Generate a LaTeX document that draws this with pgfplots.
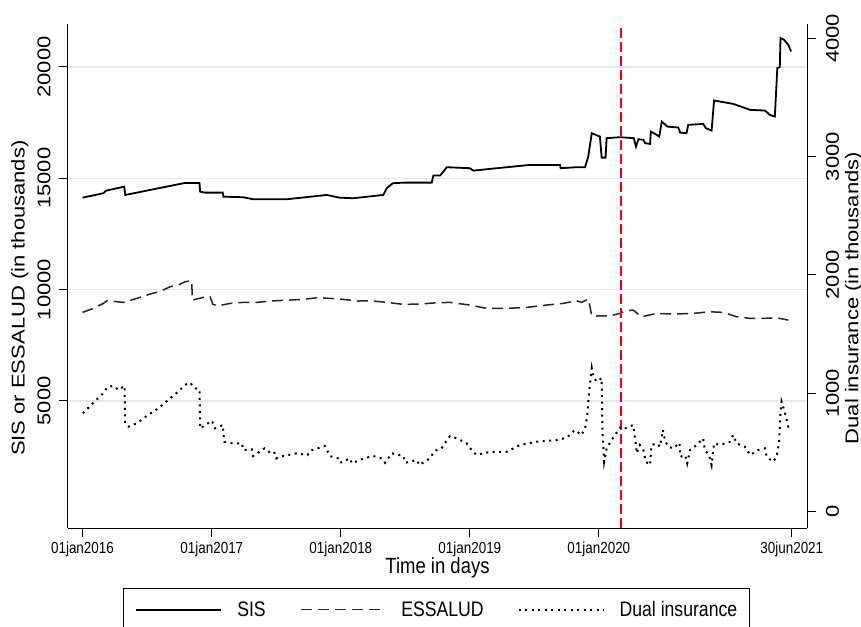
\documentclass[border=0pt]{standalone}
\usepackage{fontspec}
\setmainfont{Liberation Sans}
\usepackage{graphicx}
\usepackage{pgfplots}
\pgfplotsset{compat=1.18}
\newcommand{\sq}[1]{\scalebox{0.84}[1]{#1}}
\newcommand{\sqr}[1]{\scalebox{1}[0.84]{#1}}
\begin{document}
\begin{tikzpicture}
\pgfplotsset{
  common/.style={
    scale only axis, width=739pt, height=504pt,
    xmin=-41, xmax=2050,
    scaled ticks=false,
    tick align=outside, major tick length=9pt,
    every tick/.style={black, line width=1pt},
    axis line style={line width=1pt, black},
  },
  sisstyle/.style={black, line width=1.8pt, solid},
  essstyle/.style={black!85, line width=1.5pt, dash pattern=on 11pt off 6pt},
  dualstyle/.style={black, line width=2pt, dash pattern=on 2pt off 4.5pt},
}
\begin{axis}[common,
  ymin=-705, ymax=21930,
  axis y line*=left, axis x line*=bottom,
  xtick={0,366,731,1096,1461,2007},
  xticklabels={\sq{01jan2016},\sq{01jan2017},\sq{01jan2018},\sq{01jan2019},\sq{01jan2020},\sq{30jun2021}},
  xticklabel style={font=\fontsize{16}{16}\selectfont, anchor=center, yshift=-12pt},
  ytick={5000,10000,15000,20000},
  yticklabels={\sqr{5000},\sqr{10000},\sqr{15000},\sqr{20000}},
  yticklabel style={font=\fontsize{22}{22}\selectfont, anchor=center, xshift=-15pt, rotate=90},
  ymajorgrids, grid style={line width=1.3pt, color=black!9},
  xlabel={\sq{Time in days}},
  xlabel style={font=\fontsize{22}{22}\selectfont, at={(axis description cs:0.5,-0.078)}, anchor=center},
  ylabel={\sqr{SIS or ESSALUD (in thousands)}},
  ylabel style={font=\fontsize{22}{22}\selectfont, at={(axis description cs:-0.065,0.456)}, anchor=center},
]
\addplot[sisstyle] coordinates {
(0,14130)(59,14329)(67,14446)(118,14626)(121,14252)(290,14792)(331,14792)(333,14401)(347,14356)(397,14356)(399,14176)(455,14149)(483,14059)(578,14059)(691,14252)(727,14131)(766,14104)(851,14252)(861,14554)(878,14778)(908,14805)(988,14805)(993,15129)(1012,15129)(1031,15498)(1096,15453)(1106,15345)(1172,15453)(1266,15601)(1351,15601)(1353,15453)(1398,15498)(1422,15498)(1431,15974)(1441,17026)(1464,16874)(1469,15929)(1480,15929)(1483,16802)(1521,16847)(1560,16802)(1566,16424)(1573,16757)(1587,16725)(1592,16577)(1606,16545)(1608,17098)(1620,16995)(1632,16874)(1639,17548)(1655,17323)(1686,17278)(1691,17053)(1709,17026)(1714,17400)(1756,17444)(1764,17251)(1780,17143)(1787,18492)(1841,18344)(1889,18074)(1931,18042)(1945,17849)(1959,17773)(1966,19949)(1973,19994)(1975,21298)(1985,21221)(1997,20996)(2005,20695)
};
\addplot[essstyle] coordinates {
(0,8979)(31,9158)(59,9383)(69,9500)(116,9428)(154,9608)(191,9801)(220,9923)(248,10130)(271,10206)(290,10354)(309,10399)(311,9532)(319,9563)(342,9653)(361,9680)(369,9338)(384,9275)(418,9383)(455,9428)(493,9428)(531,9487)(568,9518)(625,9563)(663,9635)(700,9608)(738,9563)(776,9487)(814,9500)(861,9428)(908,9338)(955,9352)(1002,9410)(1040,9428)(1096,9307)(1144,9158)(1200,9158)(1257,9203)(1313,9307)(1360,9383)(1398,9500)(1412,9428)(1431,9576)(1436,9230)(1441,8812)(1493,8826)(1521,8934)(1535,9037)(1558,9082)(1582,8781)(1625,8934)(1672,8902)(1728,8934)(1775,9005)(1813,8979)(1851,8781)(1889,8709)(1926,8709)(1964,8736)(1997,8632)
};
\addplot[red, line width=2pt, dash pattern=on 10pt off 4pt] coordinates {(1524,-705)(1524,21930)};
\end{axis}
\begin{axis}[common,
  ymin=-138, ymax=4121,
  axis y line*=right, axis x line=none,
  ytick={0,1000,2000,3000,4000},
  yticklabels={\sqr{0},\sqr{1000},\sqr{2000},\sqr{3000},\sqr{4000}},
  yticklabel style={font=\fontsize{22}{22}\selectfont, anchor=center, xshift=16.5pt, rotate=90},
  ylabel={\sqr{Dual insurance (in thousands)}},
  ylabel style={font=\fontsize{22}{22}\selectfont, at={(axis description cs:1.0629,0.456)}, anchor=center},
  legend columns=3,
  legend image code/.code={\draw[#1] (0pt,0pt) -- (85pt,0pt);},
  legend style={at={(axis description cs:0.4985,-0.119)}, anchor=north, draw=black, line width=0.8pt,
    font=\fontsize{21}{21}\selectfont, inner xsep=12pt, inner ysep=13pt,
    nodes={inner sep=0pt},
    /tikz/every odd column/.append style={column sep=15pt},
    /tikz/every even column/.append style={column sep=34pt}},
]
\addlegendimage{sisstyle}
\addlegendentry{\sq{SIS}}
\addlegendimage{essstyle}
\addlegendentry{\sq{ESSALUD}}
\addplot[dualstyle] coordinates {
(1,831)(31,921)(59,1001)(70,1052)(87,1063)(102,1029)(119,1063)(121,747)(130,718)(154,747)(182,809)(215,874)(248,958)(271,1014)(290,1071)(304,1091)(319,1043)(331,1035)(333,704)(352,741)(366,769)(375,704)(397,732)(401,591)(427,577)(451,577)(455,521)(479,527)(483,470)(515,535)(531,498)(542,506)(548,450)(568,470)(606,493)(637,478)(644,515)(686,555)(700,470)(724,450)(729,413)(757,450)(762,408)(795,450)(823,470)(847,450)(856,413)(875,493)(908,470)(913,413)(946,436)(953,394)(983,450)(997,515)(1016,535)(1031,605)(1040,639)(1059,620)(1087,577)(1101,521)(1115,478)(1153,506)(1200,506)(1238,563)(1285,591)(1342,605)(1370,625)(1393,690)(1412,648)(1422,704)(1428,803)(1434,1029)(1441,1212)(1445,1141)(1455,1099)(1469,1128)(1471,690)(1476,422)(1483,535)(1497,605)(1523,718)(1535,704)(1558,732)(1566,563)(1568,493)(1577,563)(1587,521)(1594,422)(1606,394)(1610,563)(1625,577)(1634,549)(1642,690)(1648,605)(1657,549)(1672,535)(1689,583)(1692,464)(1705,478)(1711,408)(1719,521)(1738,563)(1756,620)(1761,521)(1773,478)(1780,394)(1787,577)(1804,563)(1832,591)(1841,648)(1851,577)(1874,549)(1889,478)(1912,521)(1931,535)(1936,464)(1954,422)(1964,464)(1971,591)(1975,831)(1978,930)(1988,831)(1997,718)(2004,724)
};
\addlegendentry{\sq{Dual insurance}}
\end{axis}
\pgfresetboundingbox
\path (-68pt,-98pt) rectangle (793pt,528pt);
\end{tikzpicture}
\end{document}
